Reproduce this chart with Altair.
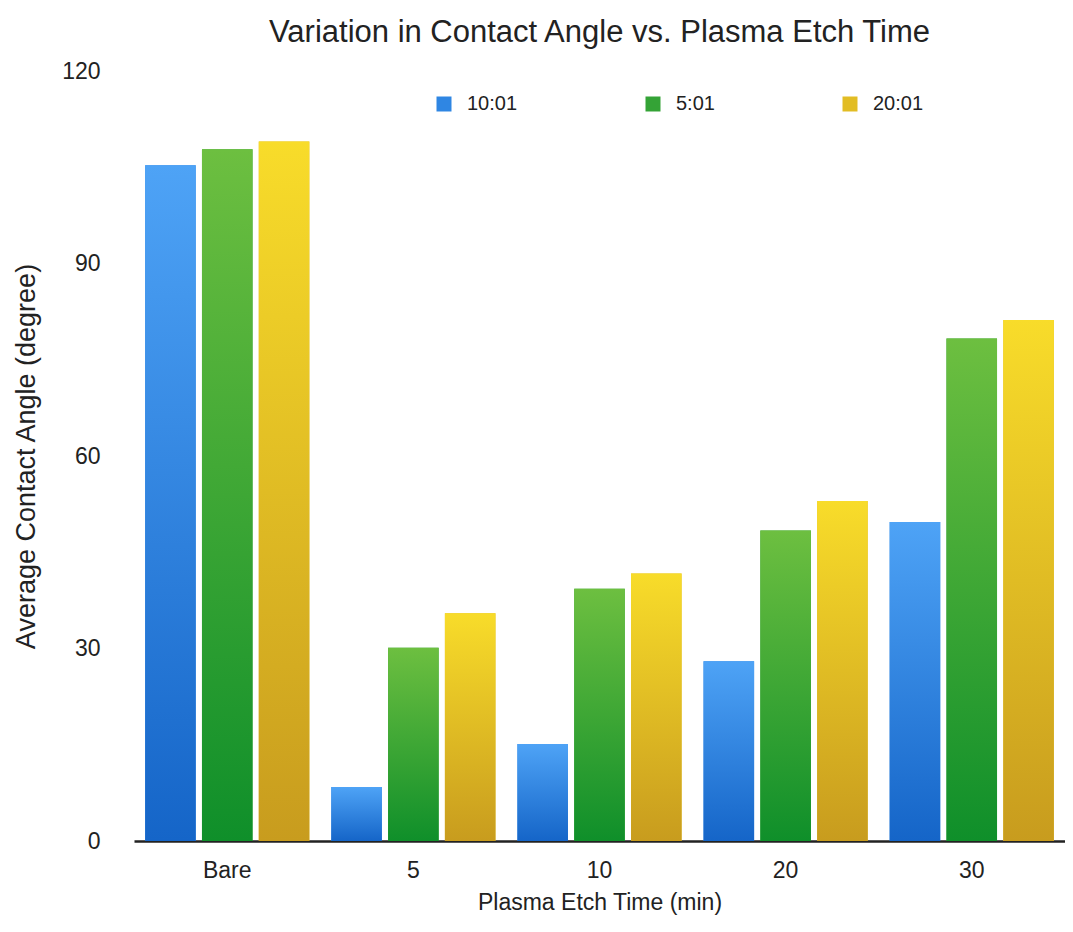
import altair as alt
import pandas as pd

categories = ["Bare", "5", "10", "20", "30"]
series = ["10:01", "5:01", "20:01"]
v_10_01 = [105.3, 8.4, 15.1, 28.0, 49.7]
v_5_01 = [107.8, 30.1, 39.3, 48.4, 78.3]
v_20_01 = [109.0, 35.5, 41.7, 53.0, 81.2]
mid_colors = ["#2f86e3", "#34a336", "#e2bd24"]
top_colors = ["#4ea3f6", "#6dbf40", "#f8dc2a"]
bottom_colors = ["#1565c8", "#0f8f2a", "#c89c1e"]

rows = []
for s, vals in zip(series, [v_10_01, v_5_01, v_20_01]):
    for c, v in zip(categories, vals):
        rows.append({"time": c, "ratio": s, "angle": v})
df = pd.DataFrame(rows)

FONT = "Liberation Sans"
TXT = "#222222"

x_enc = alt.X("time:N", sort=categories,
              scale=alt.Scale(paddingInner=0.118, paddingOuter=0.06),
              axis=alt.Axis(title="Plasma Etch Time (min)", labelAngle=0, ticks=False,
                            domainColor="#222222", domainWidth=2.5,
                            labelPadding=18, titlePadding=9,
                            labelFontSize=23, titleFontSize=23,
                            labelColor=TXT, titleColor=TXT,
                            labelFont=FONT, titleFont=FONT, titleFontWeight="normal"))
xo_enc = alt.XOffset("ratio:N", sort=series,
                     scale=alt.Scale(domain=series, paddingInner=0.11, paddingOuter=0))
y_enc = alt.Y("angle:Q",
              scale=alt.Scale(domain=[0, 120], nice=False),
              axis=alt.Axis(title="Average Contact Angle (degree)", values=[0, 30, 60, 90, 120],
                            grid=False, domain=False, ticks=False, tickSize=0,
                            labelPadding=34, titlePadding=21,
                            labelFontSize=23, titleFontSize=27,
                            labelColor=TXT, titleColor=TXT,
                            labelFont=FONT, titleFont=FONT, titleFontWeight="normal"))

base = alt.Chart(df)

solid = base.mark_bar().encode(
    x=x_enc, xOffset=xo_enc, y=y_enc,
    color=alt.Color("ratio:N", sort=series,
                    scale=alt.Scale(domain=series, range=mid_colors),
                    legend=alt.Legend(title=None, orient="none", direction="horizontal",
                                      legendX=300, legendY=23, columns=3,
                                      columnPadding=125, symbolType="square",
                                      symbolSize=225, symbolStrokeWidth=0,
                                      labelFontSize=20, labelFont=FONT, labelColor=TXT,
                                      labelOffset=13)),
)

layers = [solid]
for s, t, b in zip(series, top_colors, bottom_colors):
    grad = alt.Gradient(gradient="linear", x1=0, x2=0, y1=0, y2=1,
                        stops=[alt.GradientStop(color=t, offset=0),
                               alt.GradientStop(color=b, offset=1)])
    layers.append(
        base.transform_filter(alt.datum.ratio == s)
        .mark_bar(fill=grad)
        .encode(x=x_enc, xOffset=xo_enc, y=y_enc)
    )

chart = alt.layer(*layers).properties(
    width=931, height=770,
    title=alt.TitleParams("Variation in Contact Angle vs. Plasma Etch Time",
                          fontSize=31, font=FONT, fontWeight="normal", color=TXT,
                          anchor="middle", offset=11),
    autosize=alt.AutoSizeParams(type="none"),
    padding={"left": 126, "top": 63, "right": 0, "bottom": 75},
).configure(background="white").configure_view(strokeWidth=0, stroke="transparent")

chart.save("out.html", embed_options={"renderer": "svg", "actions": False})
